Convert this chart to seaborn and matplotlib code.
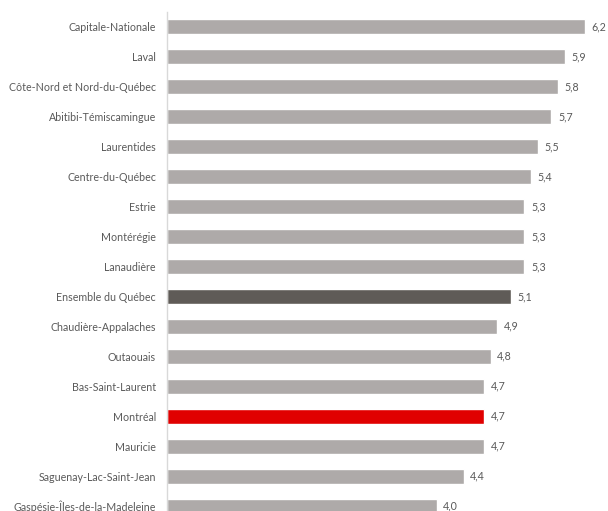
import matplotlib
matplotlib.use("Agg")
import matplotlib.pyplot as plt
import pandas as pd
import seaborn as sns

sns.set_style("white")
plt.rcParams['font.family'] = ['Lato', 'DejaVu Sans']

regions = ["Capitale-Nationale", "Laval", "Côte-Nord et Nord-du-Québec",
           "Abitibi-Témiscamingue", "Laurentides", "Centre-du-Québec", "Estrie",
           "Montérégie", "Lanaudière", "Ensemble du Québec", "Chaudière-Appalaches",
           "Outaouais", "Bas-Saint-Laurent", "Montréal", "Mauricie",
           "Saguenay-Lac-Saint-Jean", "Gaspésie-Îles-de-la-Madeleine"]
values = [6.2, 5.9, 5.8, 5.7, 5.5, 5.4, 5.3, 5.3, 5.3, 5.1, 4.9, 4.8, 4.7, 4.7, 4.7, 4.4, 4.0]

grey = "#aeaaa9"
colors = {r: grey for r in regions}
colors["Ensemble du Québec"] = "#5f5b57"
colors["Montréal"] = "#e00000"

df = pd.DataFrame({"region": regions, "value": values})

fig = plt.figure(figsize=(6.08, 5.11), dpi=100)
W, H = 608, 511
left, top, right, bottom = 167, 12, 167 + 6.4 * 67.4, 521
ax = fig.add_axes([left / W, (H - bottom) / H, (right - left) / W, (bottom - top) / H])

sns.barplot(data=df, x="value", y="region", hue="region", palette=colors,
            orient="h", width=0.5, legend=False, ax=ax, saturation=1)

ax.set_xlim(0, 6.4)
ax.set_ylim(len(regions) - 0.5, -0.5)
ax.set_xlabel("")
ax.set_ylabel("")
ax.set_xticks([])
for s in ["top", "right", "bottom"]:
    ax.spines[s].set_visible(False)
ax.spines["left"].set_color("#d9d9d9")
ax.spines["left"].set_linewidth(1)
ax.tick_params(axis="y", length=0, pad=8, labelsize=7.7, labelcolor="#595959")

for i, v in enumerate(values):
    ax.text(v + 0.1, i, f"{v:.1f}".replace(".", ","), va="center", ha="left",
            fontsize=7.7, color="#595959")

fig.savefig("out.png", dpi=100)
